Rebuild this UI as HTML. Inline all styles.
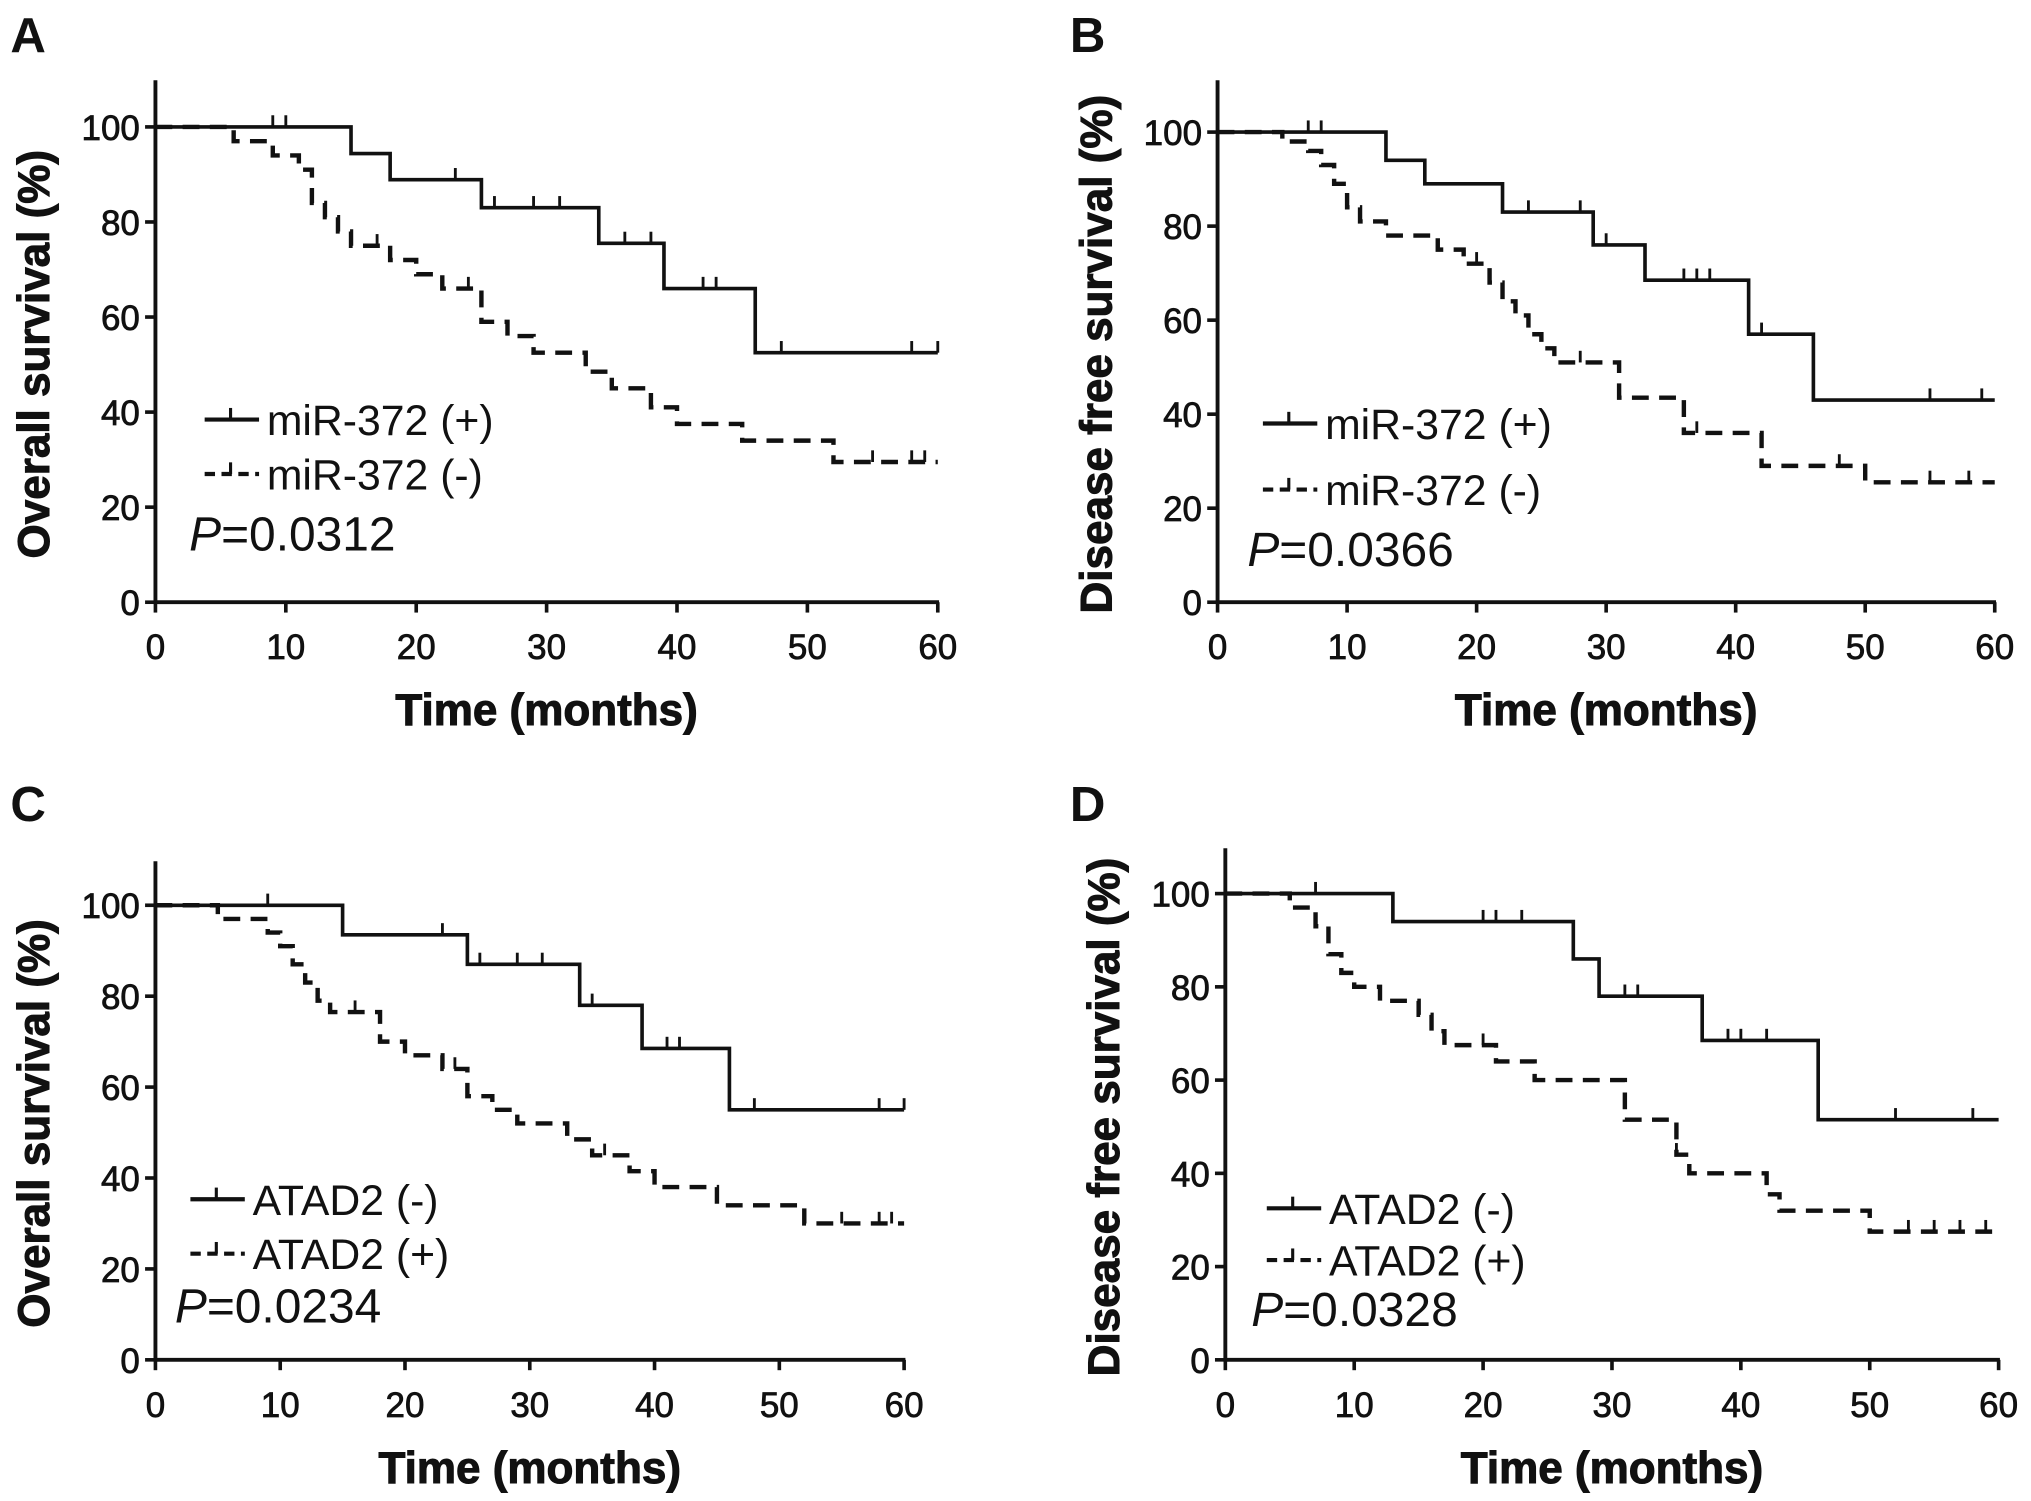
<!DOCTYPE html>
<html><head><meta charset="utf-8">
<style>
html,body{margin:0;padding:0;background:#fff;}
svg{display:block;}
text{font-family:"Liberation Sans",sans-serif;fill:#111;}
</style></head>
<body>
<svg id="fig" width="2031" height="1501" viewBox="0 0 1568 1159" preserveAspectRatio="none" xmlns="http://www.w3.org/2000/svg"></svg>
<script>
// Panel A data
const aPosTimes = [0,15,18,25,34,39,46,60];
const aPosSurv  = [100,94.4,88.9,83,75.5,66,52.5,52.5];
const aPosCens  = [9,10,23,26,29,31,36,38,42,43,48,58,60];
const aNegTimes = [0,6,9,11,12,13,14,15,18,20,22,25,27,29,33,35,38,40,45,52,60];
const aNegSurv  = [100,97,94,91,84,81,78,75,72,69,66,59,56,52.5,48.5,45,41,37.5,34,29.5,29.5];
const aNegCens  = [17,24,55,58,59];
// Panel B data
const bPosTimes = [0,13,16,22,29,33,41,46,60];
const bPosSurv  = [100,94,89,83,76,68.5,57,43,43];
const bPosCens  = [7,8,22,24,28,30,36,37,38,42,55,59];
const bNegTimes = [0,5,7,8,9,10,11,13,17,19,21,22,23,24,25,26,31,36,42,50,60];
const bNegSurv  = [100,98,96,93,89,84,81,78,75,72,68,64,61,57,54,51,43.5,36,29,25.5,25.5];
const bNegCens  = [20,28,37,48,55,58];
// Panel C data
const cNegTimes = [0,15,25,34,39,46,60];
const cNegSurv  = [100,93.5,87,78,68.5,55,55];
const cNegCens  = [9,23,26,29,31,35,41,42,48,58,60];
const cPosTimes = [0,5,9,10,11,12,13,14,18,20,23,25,27,29,33,35,38,40,45,52,60];
const cPosSurv  = [100,97,94,91,87,83,79,76.5,70,67,64,58,55,52,48.5,45,41.5,38,34,30,30];
const cPosCens  = [16,24,36,55,58,59];
// Panel D data
const dNegTimes = [0,13,27,29,37,46,60];
const dNegSurv  = [100,94,86,78,68.5,51.5,51.5];
const dNegCens  = [7,20,21,23,31,32,39,40,42,52,58];
const dPosTimes = [0,5,7,8,9,10,12,15,16,17,21,24,25,31,35,36,42,43,50,60];
const dPosSurv  = [100,97,93,87,83,80,77,74,70.5,67.5,64,60,60,51.5,44,40,35.5,32,27.5,27.5];
const dPosCens  = [20,35,53,55,57,59];
const xTicks = [0,10,20,30,40,50,60];
const yTicks = [0,20,40,60,80,100];

const NS = "http://www.w3.org/2000/svg";
const svg = document.getElementById('fig');
function mk(tag, attrs, parent){const e=document.createElementNS(NS,tag);for(const k in attrs)e.setAttribute(k,attrs[k]);(parent||svg).appendChild(e);return e;}

function panel(p){
  const g = mk('g',{});
  
  
  const sx = t => p.x0 + (p.x60-p.x0)*t/60;
  const sy = v => p.y0 - (p.y0-p.y100)*v/100;
  const lt = mk('text',{x:p.lx,y:p.ly,'font-size':38,'font-weight':'bold'},g); lt.textContent=p.letter;
  
  
  const ax = mk('path',{d:`M${p.x0},${p.ytop} V${p.y0} H${p.x60+1}`,stroke:'#111','stroke-width':3,fill:'none'},g);
  
  
  xTicks.forEach(t=>{
    mk('line',{x1:sx(t),x2:sx(t),y1:p.y0,y2:p.y0+8,stroke:'#111','stroke-width':2.8},g);
    const tx = mk('text',{x:sx(t),y:p.y0+44,'font-size':27,'text-anchor':'middle',stroke:'#111','stroke-width':0.6},g); tx.textContent=t;
    
    
  });
  yTicks.forEach(v=>{
    mk('line',{x1:p.x0-8,x2:p.x0,y1:sy(v),y2:sy(v),stroke:'#111','stroke-width':2.8},g);
    const ty = mk('text',{x:p.x0-12,y:sy(v)+10,'font-size':27,'text-anchor':'end',stroke:'#111','stroke-width':0.6},g); ty.textContent=v;
    
    
  });
  const xt = mk('text',{x:(p.x0+p.x60)/2,y:p.y0+95,'font-size':34,'font-weight':'bold','text-anchor':'middle',stroke:'#111','stroke-width':0.8},g); xt.textContent='Time (months)';
  
  
  const yc = (p.y0+p.ytop)/2+10;
  const yt = mk('text',{x:0,y:0,'font-size':34,'font-weight':'bold','text-anchor':'middle',stroke:'#111','stroke-width':0.8,transform:`translate(${p.x0-82},${yc}) rotate(-90)`},g); yt.textContent=p.ytitle;
  
  
  function series(times,surv,cens,dashed,name){
    let d=`M${sx(times[0])},${sy(surv[0])}`;
    for(let i=1;i<times.length;i++){d+=` H${sx(times[i])} V${sy(surv[i])}`;}
    const s = mk('path',{d,stroke:'#111','stroke-width':dashed?3.4:2.8,fill:'none','stroke-dasharray':dashed?'13 8':'none'},g);
    
    
    cens.forEach(t=>{
      let v=surv[0]; for(let i=0;i<times.length;i++){ if(times[i]<=t) v=surv[i]; }
      const c = mk('line',{x1:sx(t),x2:sx(t),y1:sy(v),y2:sy(v)-9,stroke:'#111','stroke-width':2.2},g);
      
      
    });
  }
  series(p.s1[0],p.s1[1],p.s1[2],false,'solid-curve');
  series(p.s2[0],p.s2[1],p.s2[2],true,'dashed-curve');
  [[p.l1,false,p.ly1],[p.l2,true,p.ly2]].forEach(([lab,dash,yy],i)=>{
    const le = mk('g',{},g);
    
    
    mk('line',{x1:p.legx,x2:p.legx+42,y1:yy,y2:yy,stroke:'#111','stroke-width':3.2,'stroke-dasharray':dash?'8 5':'none'},le);
    mk('line',{x1:p.legx+20,x2:p.legx+20,y1:yy,y2:yy-9,stroke:'#111','stroke-width':2.4},le);
    const t = mk('text',{x:p.legx+48,y:yy+12,'font-size':33,fill:'#333'},le); t.textContent=lab;
  });
  const pt = mk('text',{x:p.legx-12,y:p.py,'font-size':37},g);
  
  
  const pi = mk('tspan',{'font-style':'italic'},pt); pi.textContent='P';
  const pr = mk('tspan',{},pt); pr.textContent='='+p.pval;
}

panel({letter:'A',lx:8,ly:40,x0:120,x60:724,y0:465,y100:98,ytop:62,ytitle:'Overall survival (%)',
  s1:[aPosTimes,aPosSurv,aPosCens],s2:[aNegTimes,aNegSurv,aNegCens],
  l1:'miR-372 (+)',l2:'miR-372 (-)',legx:158,ly1:324,ly2:366,py:425,pval:'0.0312'});
panel({letter:'B',lx:826,ly:40,x0:940,x60:1540,y0:465,y100:102,ytop:62,ytitle:'Disease free survival (%)',
  s1:[bPosTimes,bPosSurv,bPosCens],s2:[bNegTimes,bNegSurv,bNegCens],
  l1:'miR-372 (+)',l2:'miR-372 (-)',legx:975,ly1:327,ly2:378,py:437,pval:'0.0366'});
panel({letter:'C',lx:8,ly:634,x0:120,x60:698,y0:1050,y100:699,ytop:665,ytitle:'Overall survival (%)',
  s1:[cNegTimes,cNegSurv,cNegCens],s2:[cPosTimes,cPosSurv,cPosCens],
  l1:'ATAD2  (-)',l2:'ATAD2 (+)',legx:147,ly1:926,ly2:968,py:1021,pval:'0.0234'});
panel({letter:'D',lx:826,ly:634,x0:946,x60:1543,y0:1050,y100:690,ytop:655,ytitle:'Disease free survival (%)',
  s1:[dNegTimes,dNegSurv,dNegCens],s2:[dPosTimes,dPosSurv,dPosCens],
  l1:'ATAD2 (-)',l2:'ATAD2 (+)',legx:978,ly1:933,ly2:973,py:1024,pval:'0.0328'});
</script>
</body></html>
